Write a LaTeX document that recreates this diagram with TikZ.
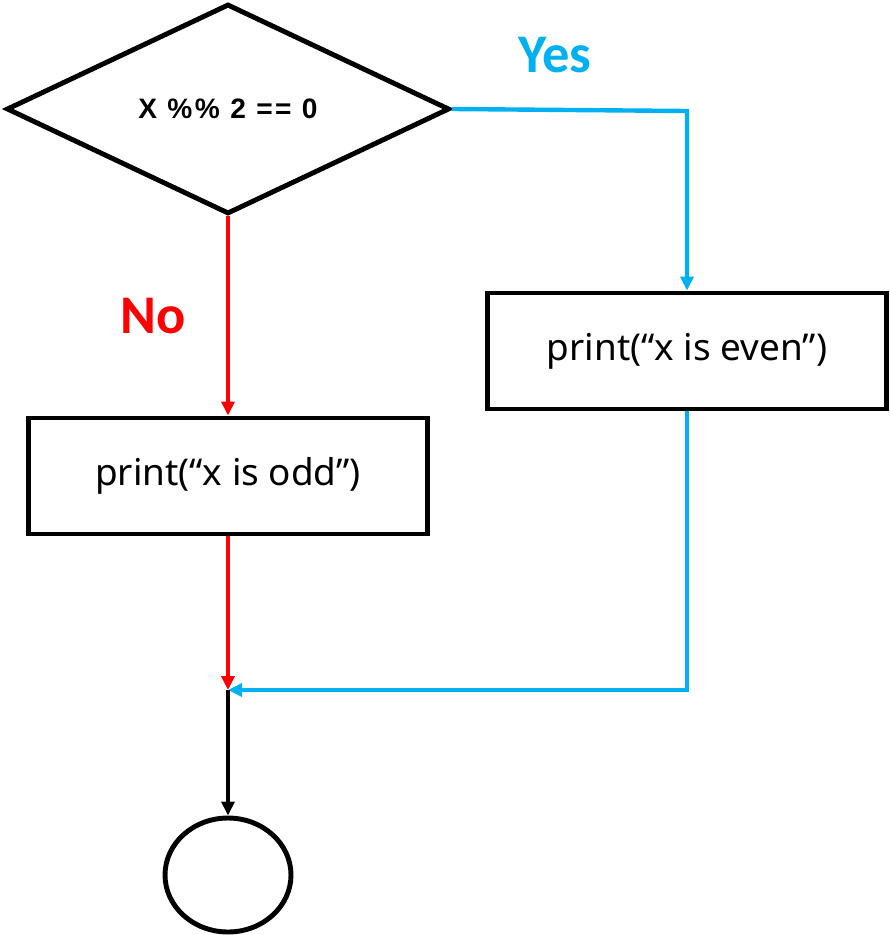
\documentclass[tikz,border=0pt]{standalone}
\usepackage{fontspec}
\setmainfont{Noto Sans}
\newfontfamily\condfont{Liberation Sans}[LetterSpace=9]
\newfontfamily\labelfont{Carlito}
\usetikzlibrary{shapes.geometric,arrows.meta}

\definecolor{yesblue}{RGB}{0,176,240}
\definecolor{nored}{RGB}{255,0,0}

\begin{document}
\begin{tikzpicture}[x=0.02cm,y=-0.02cm,
    box/.style={draw,line width=2.8pt,minimum width=7.98cm,minimum height=2.32cm,inner sep=0pt,font=\fontsize{21}{24}\selectfont},
    flow/.style={line width=2.5pt,-{Triangle[length=0.28cm,width=0.26cm]}},
    label/.style={font=\labelfont\fontsize{31}{34}\selectfont\bfseries}]
    \useasboundingbox (0,0) rectangle (889,935);
    % decision
    \node[draw,diamond,line width=2.8pt,minimum width=8.86cm,minimum height=4.2cm,inner sep=0pt,
        font=\condfont\fontsize{16}{18}\selectfont\bfseries] (cond) at (228,109) {X \%\% 2 == 0};
    % the two branches
    \node[box] (even) at (687,351) {print(“x is even”)};
    \node[box] (odd) at (228,476) {print(“x is odd”)};
    % end
    \node[draw,ellipse,line width=2.8pt,minimum width=2.52cm,minimum height=2.28cm] (stop) at (228,875) {};
    \coordinate (ycorner) at (687,111);
    \coordinate (ecorner) at (687,690);
    \coordinate (join) at (228,690);
    \node[label,text=yesblue] (yes) at (555,55) {Yes};
    \node[label,text=nored] (no) at (153,316) {No};
    % connectors
    \draw[flow,yesblue] (cond.east) -- (ycorner) -- (even.north);
    \draw[flow,nored] (cond.south) -- (odd.north);
    \draw[flow,nored] (odd.south) -- (join);
    \draw[flow,yesblue] (even.south) -- (ecorner) -- (join);
    \draw[flow,black] (join) -- (stop.north);
\end{tikzpicture}
\end{document}
